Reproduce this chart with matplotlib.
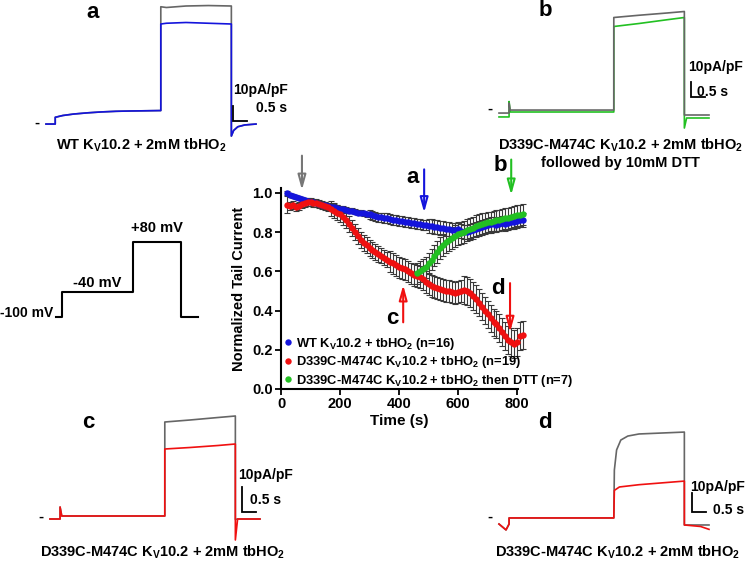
import matplotlib
matplotlib.use("Agg")
import matplotlib.pyplot as plt

plt.rcParams['font.family'] = ['Liberation Sans', 'DejaVu Sans']
plt.rcParams['font.weight'] = 'bold'
plt.rcParams['axes.labelweight'] = 'bold'
plt.rcParams['mathtext.fontset'] = 'custom'
plt.rcParams['mathtext.rm'] = 'Liberation Sans:bold'
plt.rcParams['mathtext.bf'] = 'Liberation Sans:bold'
plt.rcParams['mathtext.default'] = 'bf'

# ---------------------------------------------------------------- data
# normalized tail current vs time (s)
t_wt = list(range(20, 830, 10))
wt = [1.00, 0.99, 0.985, 0.98, 0.975, 0.97, 0.965, 0.96, 0.955, 0.955,
      0.95, 0.945, 0.94, 0.94, 0.935, 0.93, 0.93, 0.925, 0.92, 0.92,
      0.915, 0.91, 0.91, 0.905, 0.90, 0.90, 0.895, 0.89, 0.89, 0.885,
      0.88, 0.875, 0.875, 0.87, 0.87, 0.865, 0.86, 0.86, 0.855, 0.855,
      0.85, 0.85, 0.845, 0.845, 0.84, 0.84, 0.835, 0.835, 0.83, 0.83,
      0.825, 0.825, 0.82, 0.82, 0.815, 0.815, 0.81, 0.81, 0.815, 0.805,
      0.80, 0.80, 0.805, 0.81, 0.815, 0.82, 0.825, 0.83, 0.835, 0.84,
      0.84, 0.835, 0.84, 0.845, 0.84, 0.845, 0.85, 0.85, 0.855, 0.86,
      0.86]
wt_err = [0.01] * 13 + [0.015] * 15 + [0.025] * 20 + [0.035] * 33

t_ox = list(range(20, 830, 10))
ox = [0.94, 0.935, 0.94, 0.93, 0.935, 0.945, 0.95, 0.955, 0.955, 0.95,
      0.95, 0.945, 0.94, 0.935, 0.93, 0.92, 0.91, 0.90, 0.89, 0.875,
      0.86, 0.84, 0.82, 0.80, 0.78, 0.76, 0.745, 0.735, 0.72, 0.71,
      0.70, 0.69, 0.68, 0.67, 0.66, 0.65, 0.64, 0.63, 0.62, 0.615,
      0.61, 0.60, 0.59, 0.58, 0.575, 0.57, 0.56, 0.545, 0.535, 0.525,
      0.52, 0.515, 0.51, 0.505, 0.50, 0.50, 0.495, 0.49, 0.495, 0.50,
      0.505, 0.50, 0.49, 0.475, 0.46, 0.44, 0.42, 0.40, 0.38, 0.36,
      0.34, 0.33, 0.31, 0.29, 0.27, 0.25, 0.24, 0.23, 0.24, 0.27,
      0.275]
ox_err = [0.045] + [0.02] * 14 + [0.04] * 20 + [0.055] * 25 + [0.07] * 21

t_dtt = list(range(460, 830, 10))
dtt = [0.59, 0.60, 0.61, 0.62, 0.64, 0.66, 0.68, 0.70, 0.72, 0.735,
       0.75, 0.76, 0.77, 0.78, 0.79, 0.795, 0.80, 0.81, 0.815, 0.82,
       0.83, 0.835, 0.84, 0.845, 0.85, 0.85, 0.855, 0.86, 0.86, 0.865,
       0.87, 0.87, 0.875, 0.88, 0.885, 0.885, 0.89]
dtt_err = [0.055] * 37

labels = ['WT K$_V$10.2 + tbHO$_2$ (n=16)',
          'D339C-M474C K$_V$10.2 + tbHO$_2$ (n=19)',
          'D339C-M474C K$_V$10.2 + tbHO$_2$ then DTT (n=7)']

# arrows on the time course: (time, tip, tail)
arrow_gray = (71, 1.015, 1.19)
arrow_a = (485, 0.90, 1.12)
arrow_b = (780, 0.99, 1.17)
arrow_c = (414, 0.53, 0.34)
arrow_d = (776, 0.29, 0.54)

# voltage protocol (s, mV)
prot_t = [0, 0.33, 0.33, 4.1, 4.1, 6.62, 6.62, 7.5]
prot_v = [-100, -100, -40, -40, 80, 80, -100, -100]

# current traces (s, pA/pF)
a_t = [0, 0.33, 0.33, 0.6, 1.0, 1.5, 2.0, 2.5, 3.0, 4.1, 4.1, 4.3, 5.0, 5.8,
       6.62, 6.62, 6.7, 6.85, 7.1, 7.5]
a_ctrl = [-0.7, -0.7, 3.8, 5.0, 6.0, 6.8, 7.4, 7.8, 8.0, 8.3, 77.5, 77.0,
          78.0, 78.3, 78.0, -8.7, -5.0, -2.5, -1.3, -0.7]
a_ox = [-0.7, -0.7, 3.8, 5.0, 6.0, 6.8, 7.4, 7.8, 8.0, 8.3, 66.0, 66.5,
        67.0, 66.5, 66.0, -8.7, -5.0, -2.5, -1.3, -0.7]

b_t_ctrl = [0, 0.36, 0.36, 0.4, 4.1, 4.1, 5.0, 6.0, 6.62, 6.62, 7.5]
b_ctrl = [-2.7, -2.7, 4.0, -0.7, -0.7, 61.0, 62.5, 64.0, 65.0, -4.0, -4.0]
b_t_dtt = [0, 0.36, 0.36, 0.4, 4.1, 4.1, 5.0, 6.0, 6.62, 6.62, 6.7, 7.5]
b_dtt = [-5.3, -5.3, 5.0, -2.0, -2.0, 55.0, 57.0, 59.5, 61.0, -12.7, -6.0,
         -6.0]

c_t = [0, 0.36, 0.36, 0.42, 4.1, 4.1, 5.0, 6.0, 6.62, 6.62, 6.7, 7.5]
c_ctrl = [-0.8, -0.8, 4.0, 0.4, 0.4, 38.0, 38.8, 39.8, 40.4, -1.0, -0.8, -0.8]
c_ox = [-0.8, -0.8, 4.0, 0.4, 0.4, 27.2, 27.8, 28.6, 29.2, -9.2, -0.8, -0.8]

d_t_ctrl = [0, 0.25, 0.36, 0.36, 4.1, 4.12, 4.2, 4.35, 4.6, 5.0, 6.62, 6.62,
            7.5]
d_ctrl = [-3.7, -6.8, -3.7, -0.5, -0.5, 24.7, 35.3, 40.5, 42.6, 43.7, 44.7,
          -4.2, -4.2]
d_t_ox = [0, 0.25, 0.36, 0.36, 4.1, 4.12, 4.3, 5.0, 6.62, 6.62, 7.2, 7.5]
d_ox = [-3.7, -6.8, -3.7, -0.5, -0.5, 14.0, 15.8, 17.0, 18.9, -4.2, -5.0,
        -6.5]

BLUE = '#1414dc'
RED = '#f01010'
GREEN = '#22c022'
GRAY = '#666666'

W, H = 745, 562
fig = plt.figure(figsize=(W / 100, H / 100), dpi=100)


def px_axes(x0, y0, x1, y1):
    return fig.add_axes([x0 / W, 1 - y1 / H, (x1 - x0) / W, (y1 - y0) / H])


def trace_axes(t0_px, zero_px, ppu, top_px, bot_px):
    # 28 px per second, ppu px per pA/pF
    x0, x1 = t0_px - 0.5 * 28, t0_px + 8.5 * 28
    ax = px_axes(x0, top_px, x1, bot_px)
    ax.set_xlim(-0.5, 8.5)
    ax.set_ylim(-(bot_px - zero_px) / ppu, (zero_px - top_px) / ppu)
    ax.axis('off')
    ax.text(-0.32, 0, '-', fontsize=11, ha='center', va='center')
    return ax


def scale_bar(ax, tb, yb, txt1, txt2):
    ax.plot([tb, tb, tb + 0.5], [yb + 10, yb, yb], color='black', lw=1.3,
            solid_joinstyle='miter')
    ax.text(txt1[0], txt1[1], '10pA/pF', fontsize=10, ha='left', va='center')
    ax.text(txt2[0], txt2[1], '0.5 s', fontsize=10, ha='left', va='center')


# ---------------------------------------------------------------- main plot
ax = px_axes(281, 188, 518, 389)
for t, y, e, c in [(t_wt, wt, wt_err, BLUE), (t_ox, ox, ox_err, RED),
                   (t_dtt, dtt, dtt_err, GREEN)]:
    ax.errorbar(t, y, yerr=e, fmt='none', ecolor='#3a3a3a', elinewidth=0.8,
                capsize=2, capthick=0.8, zorder=2, clip_on=False)
    ax.plot(t, y, 'o', color=c, ms=4.6, mec='none', zorder=3, clip_on=False)

ax.set_xlim(0, 803)
ax.set_ylim(0, 1.025)
ax.set_xticks([0, 200, 400, 600, 800])
ax.set_yticks([0.0, 0.2, 0.4, 0.6, 0.8, 1.0])
ax.set_yticklabels(['0.0', '0.2', '0.4', '0.6', '0.8', '1.0'])
ax.tick_params(labelsize=10.5, width=1.3, length=4, direction='out', pad=2)
for lab in ax.get_xticklabels() + ax.get_yticklabels():
    lab.set_fontweight('bold')
for s in ['top', 'right']:
    ax.spines[s].set_visible(False)
for s in ['left', 'bottom']:
    ax.spines[s].set_linewidth(1.5)
ax.set_xlabel('Time (s)', fontsize=11, labelpad=2)
ax.set_ylabel('Normalized Tail Current', fontsize=10.5, labelpad=4)

handles = [plt.Line2D([], [], marker='o', ls='none', color=c, mec='none',
                      ms=4.6) for c in (BLUE, RED, GREEN)]
ax.legend(handles, labels, loc='lower left', bbox_to_anchor=(0.01, 0.0),
          frameon=False, prop={'size': 9.3, 'weight': 'bold'},
          handlelength=0.7, handletextpad=0.3, labelspacing=0.2,
          borderpad=0, borderaxespad=0)

arrow_kw = dict(arrowstyle='-|>,head_length=0.9,head_width=0.25', lw=1.5,
                fc='none', shrinkA=0, shrinkB=0)
for (t, tip, tail), c in [(arrow_gray, '#777777'), (arrow_a, BLUE),
                          (arrow_b, GREEN), (arrow_c, RED), (arrow_d, RED)]:
    ax.annotate('', xy=(t, tip), xytext=(t, tail), annotation_clip=False,
                arrowprops=dict(color=c, **arrow_kw))
for s, x, y in [('a', 447, 1.08), ('b', 742, 1.14), ('c', 377, 0.36),
                ('d', 735, 0.515)]:
    ax.text(x, y, s, fontsize=16, ha='center', va='center', clip_on=False)

# ---------------------------------------------------------------- protocol
axp = px_axes(0, 200, 210, 330)
axp.set_xlim(-2.95, 8.16)
axp.set_ylim(-131.2, 180.6)
axp.axis('off')
axp.plot(prot_t, prot_v, color='black', lw=1.5)
axp.text(-0.12, -90, '-100 mV', fontsize=10, ha='right', va='center')
axp.text(2.18, -18, '-40 mV', fontsize=10.5, ha='center', va='center')
axp.text(5.36, 113, '+80 mV', fontsize=10.5, ha='center', va='center')

# ---------------------------------------------------------------- traces
axa = trace_axes(46, 123, 1.5, 0, 140)
axa.plot(a_t, a_ctrl, color=GRAY, lw=1.2)
axa.plot(a_t, a_ox, color=BLUE, lw=1.2)
scale_bar(axa, 6.68, 1.3, (6.68, 22), (7.5, 10))

axb = trace_axes(499, 109, 1.5, 0, 135)
axb.plot(b_t_dtt, b_dtt, color=GREEN, lw=1.2)
axb.plot(b_t_ctrl, b_ctrl, color=GRAY, lw=1.2)
scale_bar(axb, 6.86, 8, (6.75, 28), (7.08, 11.5))

axc = trace_axes(50, 517, 2.5, 400, 545)
axc.plot(c_t, c_ctrl, color=GRAY, lw=1.2)
axc.plot(c_t, c_ox, color=RED, lw=1.2)
scale_bar(axc, 6.86, 2, (6.71, 16.8), (7.14, 6.8))

axd = trace_axes(499, 517, 1.9, 400, 540)
axd.plot(d_t_ctrl, d_ctrl, color=GRAY, lw=1.2)
axd.plot(d_t_ox, d_ox, color=RED, lw=1.2)
scale_bar(axd, 6.89, 2.6, (6.82, 15.8), (7.64, 3.7))

# ---------------------------------------------------------------- letters, captions
def ftext(x, y, s, **kw):
    fig.text(x / W, 1 - y / H, s, **kw)


for s, x, y in [('a', 93, 13), ('b', 545, 11), ('c', 88, 423), ('d', 545, 423)]:
    ftext(x, y, s, fontsize=16, ha='center', va='center')

cap = 'D339C-M474C K$_V$10.2 + 2mM tbHO$_2$'
ftext(141, 145, 'WT K$_V$10.2 + 2mM tbHO$_2$', fontsize=10.5, ha='center',
      va='center')
ftext(498, 145, cap, fontsize=10.5, ha='left', va='center')
ftext(620, 163, 'followed by 10mM DTT', fontsize=10.5, ha='center', va='center')
ftext(40, 552, cap, fontsize=10.5, ha='left', va='center')
ftext(495, 552, cap, fontsize=10.5, ha='left', va='center')

fig.savefig('out.png', dpi=100)
